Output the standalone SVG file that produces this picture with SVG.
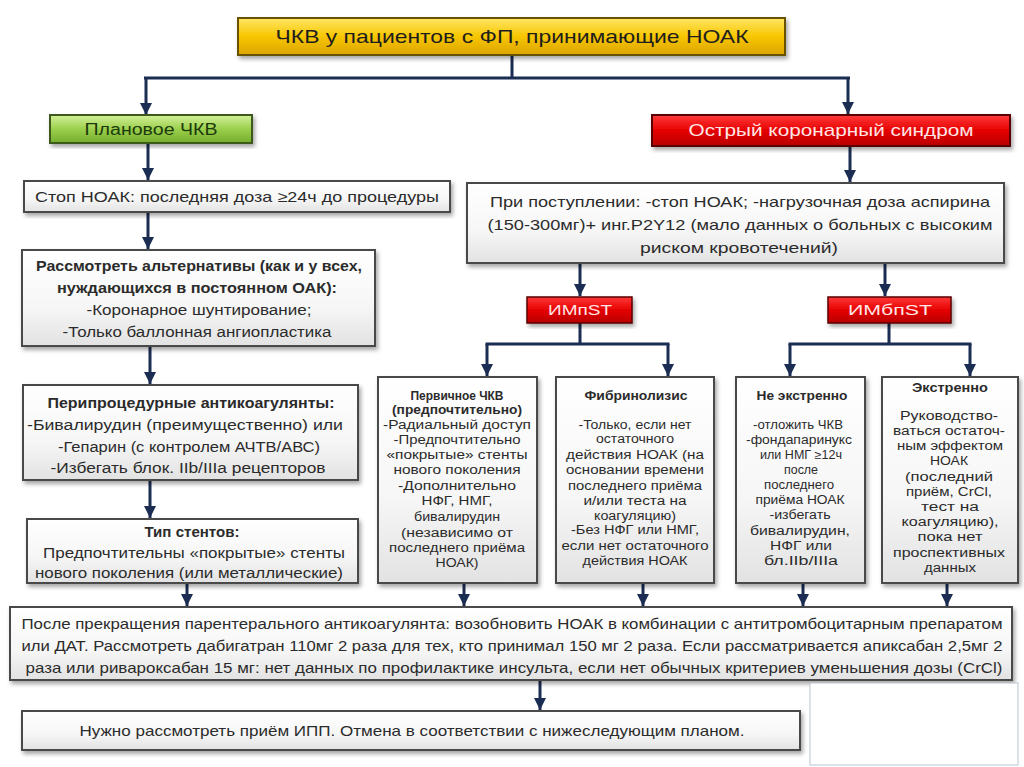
<svg xmlns="http://www.w3.org/2000/svg" width="1024" height="767" viewBox="0 0 1024 767">
<defs>
<linearGradient id="gw" x1="0" y1="0" x2="0" y2="1"><stop offset="0" stop-color="#ffffff"/><stop offset="0.6" stop-color="#f6f6f6"/><stop offset="1" stop-color="#e2e2e2"/></linearGradient>
<linearGradient id="gy" x1="0" y1="0" x2="0" y2="1"><stop offset="0" stop-color="#ffe766"/><stop offset="0.5" stop-color="#f7c600"/><stop offset="1" stop-color="#dca400"/></linearGradient>
<linearGradient id="gg" x1="0" y1="0" x2="0" y2="1"><stop offset="0" stop-color="#d4f09a"/><stop offset="0.5" stop-color="#9bd04c"/><stop offset="1" stop-color="#74ad2e"/></linearGradient>
<linearGradient id="gr" x1="0" y1="0" x2="0" y2="1"><stop offset="0" stop-color="#ff3a3a"/><stop offset="0.5" stop-color="#e60000"/><stop offset="1" stop-color="#b80000"/></linearGradient>
<filter id="sh" x="-10%" y="-10%" width="120%" height="130%"><feDropShadow dx="2" dy="3" stdDeviation="2" flood-color="#000" flood-opacity="0.35"/></filter>
<marker id="ar" viewBox="0 0 10 10" refX="10" refY="5" markerWidth="4" markerHeight="4" orient="auto"><path d="M0,0 L10,5 L0,10 z" fill="#1b2d52"/></marker>
<style>
.box{fill:url(#gw);stroke:#4a4a4a;stroke-width:2;filter:url(#sh)}
.t{font-family:"Liberation Sans","DejaVu Sans",sans-serif;fill:#2b2b2b;text-anchor:middle;lengthAdjust:spacingAndGlyphs}
.b{font-weight:bold}
.s15{font-size:15px}.s14{font-size:14px}.s12{font-size:12px}
.c{fill:none;stroke:#1b2d52;stroke-width:3}
.ca{fill:none;stroke:#1b2d52;stroke-width:3;marker-end:url(#ar)}
</style>
</defs>
<rect width="1024" height="767" fill="#ffffff"/>

<g id="connectors">
<path class="c" d="M512 55 V78 M144 78 H850"/>
<path class="ca" d="M146 78 V115"/>
<path class="ca" d="M848 78 V114"/>
<path class="ca" d="M148 143 V180"/>
<path class="ca" d="M148 212 V249"/>
<path class="ca" d="M150 346 V384"/>
<path class="ca" d="M150 480 V518"/>
<path class="ca" d="M187 583 V606"/>
<path class="ca" d="M850 146 V182"/>
<path class="ca" d="M580 263 V296"/>
<path class="ca" d="M885 263 V296"/>
<path class="c" d="M580 323 V344 M485.5 344 H669.5"/>
<path class="ca" d="M487 344 V376"/>
<path class="ca" d="M668 344 V376"/>
<path class="c" d="M889 323 V344 M788.5 344 H971.5"/>
<path class="ca" d="M790 344 V376"/>
<path class="ca" d="M970 344 V376"/>
<path class="ca" d="M464 583 V606"/>
<path class="ca" d="M643 583 V606"/>
<path class="ca" d="M803 583 V606"/>
<path class="ca" d="M947 583 V606"/>
<path class="ca" d="M540 680 V710"/>
</g>

<g id="title">
<rect x="238" y="18" width="547" height="37" fill="url(#gy)" stroke="#6b5200" stroke-width="2" filter="url(#sh)"/>
<text class="t" x="512" y="43" font-size="19" textLength="473" lengthAdjust="spacingAndGlyphs" style="fill:#1e1e1e">ЧКВ у пациентов с ФП, принимающие НОАК</text>
</g>

<g id="planned">
<rect x="50" y="115" width="202" height="28" fill="url(#gg)" stroke="#3c5a1a" stroke-width="2" filter="url(#sh)"/>
<text class="t" x="151" y="135" font-size="16" textLength="133" lengthAdjust="spacingAndGlyphs" style="fill:#1d3a0c">Плановое ЧКВ</text>
</g>

<g id="acs">
<rect x="652" y="115" width="358" height="31" fill="url(#gr)" stroke="#5a0000" stroke-width="2" filter="url(#sh)"/>
<text class="t" x="831" y="136" font-size="17" textLength="285" lengthAdjust="spacingAndGlyphs" style="fill:#ffe6e6">Острый коронарный синдром</text>
</g>

<g id="stop">
<rect class="box" x="24" y="181" width="426" height="31"/>
<text class="t s15" x="237" y="202" textLength="404" lengthAdjust="spacingAndGlyphs">Стоп НОАК: последняя доза ≥24ч до процедуры</text>
</g>

<g id="alternatives">
<rect class="box" x="22" y="250" width="353" height="96"/>
<text class="t s14 b" x="199" y="271" textLength="326" lengthAdjust="spacingAndGlyphs">Рассмотреть альтернативы (как и у всех,</text>
<text class="t s14 b" x="197" y="293" textLength="280" lengthAdjust="spacingAndGlyphs">нуждающихся в постоянном ОАК):</text>
<text class="t s14" x="199" y="315" textLength="225" lengthAdjust="spacingAndGlyphs">-Коронарное шунтирование;</text>
<text class="t s14" x="197" y="337" textLength="269" lengthAdjust="spacingAndGlyphs">-Только баллонная ангиопластика</text>
</g>

<g id="periproc">
<rect class="box" x="23" y="385" width="335" height="95"/>
<text class="t s14 b" x="191" y="408" textLength="287" lengthAdjust="spacingAndGlyphs">Перипроцедурные антикоагулянты:</text>
<text class="t s14" x="185" y="430" textLength="316" lengthAdjust="spacingAndGlyphs">-Бивалирудин (преимущественно) или</text>
<text class="t s14" x="189" y="452" textLength="262" lengthAdjust="spacingAndGlyphs">-Гепарин (с контролем АЧТВ/АВС)</text>
<text class="t s14" x="188" y="473" textLength="275" lengthAdjust="spacingAndGlyphs">-Избегать блок. IIb/IIIa рецепторов</text>
</g>

<g id="stents">
<rect class="box" x="27" y="519" width="331" height="64"/>
<text class="t s14 b" x="192" y="537" textLength="95" lengthAdjust="spacingAndGlyphs">Тип стентов:</text>
<text class="t s14" x="194" y="558" textLength="302" lengthAdjust="spacingAndGlyphs">Предпочтительны «покрытые» стенты</text>
<text class="t s14" x="189" y="578" textLength="308" lengthAdjust="spacingAndGlyphs">нового поколения (или металлические)</text>
</g>

<g id="admission">
<rect class="box" x="467" y="183" width="537" height="80"/>
<text class="t s15" x="740" y="207" textLength="500" lengthAdjust="spacingAndGlyphs">При поступлении: -стоп НОАК; -нагрузочная доза аспирина</text>
<text class="t s15" x="740" y="230" textLength="505" lengthAdjust="spacingAndGlyphs">(150-300мг)+ инг.P2Y12 (мало данных о больных с высоким</text>
<text class="t s15" x="739" y="253" textLength="198" lengthAdjust="spacingAndGlyphs">риском кровотечений)</text>
</g>

<g id="stemi">
<rect x="527" y="297" width="105" height="26" fill="url(#gr)" stroke="#5a0000" stroke-width="1.5" filter="url(#sh)"/>
<text class="t s15" x="580" y="315" textLength="64" lengthAdjust="spacingAndGlyphs" style="fill:#ffe6e6">ИМпST</text>
</g>

<g id="nstemi">
<rect x="828" y="297" width="123" height="26" fill="url(#gr)" stroke="#5a0000" stroke-width="1.5" filter="url(#sh)"/>
<text class="t s15" x="890" y="315" textLength="84" lengthAdjust="spacingAndGlyphs" style="fill:#ffe6e6">ИМбпST</text>
</g>

<g id="primary-pci">
<rect class="box" x="378" y="377" width="159" height="206"/>
<text class="t s12 b" x="457" y="400" textLength="93" lengthAdjust="spacingAndGlyphs">Первичное ЧКВ</text>
<text class="t s12 b" x="457" y="414" textLength="130" lengthAdjust="spacingAndGlyphs">(предпочтительно)</text>
<text class="t s12" x="457" y="429" textLength="148" lengthAdjust="spacingAndGlyphs">-Радиальный доступ</text>
<text class="t s12" x="457" y="444" textLength="127" lengthAdjust="spacingAndGlyphs">-Предпочтительно</text>
<text class="t s12" x="457" y="459" textLength="141" lengthAdjust="spacingAndGlyphs">«покрытые» стенты</text>
<text class="t s12" x="457" y="474" textLength="127" lengthAdjust="spacingAndGlyphs">нового поколения</text>
<text class="t s12" x="457" y="490" textLength="118" lengthAdjust="spacingAndGlyphs">-Дополнительно</text>
<text class="t s12" x="457" y="505" textLength="71" lengthAdjust="spacingAndGlyphs">НФГ, НМГ,</text>
<text class="t s12" x="457" y="521" textLength="86" lengthAdjust="spacingAndGlyphs">бивалирудин</text>
<text class="t s12" x="457" y="537" textLength="112" lengthAdjust="spacingAndGlyphs">(независимо от</text>
<text class="t s12" x="457" y="552" textLength="136" lengthAdjust="spacingAndGlyphs">последнего приёма</text>
<text class="t s12" x="457" y="567" textLength="43" lengthAdjust="spacingAndGlyphs">НОАК)</text>
</g>

<g id="fibrinolysis">
<rect class="box" x="556" y="377" width="158" height="206"/>
<text class="t s12 b" x="636" y="400" textLength="103" lengthAdjust="spacingAndGlyphs">Фибринолизис</text>
<text class="t s12" x="635" y="429" textLength="113" lengthAdjust="spacingAndGlyphs">-Только, если нет</text>
<text class="t s12" x="635" y="443" textLength="78" lengthAdjust="spacingAndGlyphs">остаточного</text>
<text class="t s12" x="635" y="459" textLength="138" lengthAdjust="spacingAndGlyphs">действия НОАК (на</text>
<text class="t s12" x="635" y="474" textLength="138" lengthAdjust="spacingAndGlyphs">основании времени</text>
<text class="t s12" x="635" y="490" textLength="134" lengthAdjust="spacingAndGlyphs">последнего приёма</text>
<text class="t s12" x="635" y="505" textLength="103" lengthAdjust="spacingAndGlyphs">и/или теста на</text>
<text class="t s12" x="635" y="520" textLength="82" lengthAdjust="spacingAndGlyphs">коагуляцию)</text>
<text class="t s12" x="635" y="534" textLength="128" lengthAdjust="spacingAndGlyphs">-Без НФГ или НМГ,</text>
<text class="t s12" x="635" y="550" textLength="147" lengthAdjust="spacingAndGlyphs">если нет остаточного</text>
<text class="t s12" x="635" y="565" textLength="105" lengthAdjust="spacingAndGlyphs">действия НОАК</text>
</g>

<g id="non-urgent">
<rect class="box" x="736" y="377" width="129" height="206"/>
<text class="t s12 b" x="802" y="400" textLength="91" lengthAdjust="spacingAndGlyphs">Не экстренно</text>
<text class="t s12" x="798" y="429" textLength="90" lengthAdjust="spacingAndGlyphs">-отложить ЧКВ</text>
<text class="t s12" x="799" y="444" textLength="106" lengthAdjust="spacingAndGlyphs">-фондапаринукс</text>
<text class="t s12" x="801" y="459" textLength="82" lengthAdjust="spacingAndGlyphs">или НМГ ≥12ч</text>
<text class="t s12" x="801" y="474" textLength="34" lengthAdjust="spacingAndGlyphs">после</text>
<text class="t s12" x="799" y="489" textLength="70" lengthAdjust="spacingAndGlyphs">последнего</text>
<text class="t s12" x="800" y="504" textLength="89" lengthAdjust="spacingAndGlyphs">приёма НОАК</text>
<text class="t s12" x="800" y="519" textLength="61" lengthAdjust="spacingAndGlyphs">-избегать</text>
<text class="t s12" x="800" y="535" textLength="100" lengthAdjust="spacingAndGlyphs">бивалирудин,</text>
<text class="t s12" x="801" y="550" textLength="62" lengthAdjust="spacingAndGlyphs">НФГ или</text>
<text class="t s12" x="801" y="565" textLength="74" lengthAdjust="spacingAndGlyphs">бл.IIb/IIIa</text>
</g>

<g id="urgent">
<rect class="box" x="882" y="377" width="136" height="206"/>
<text class="t s12 b" x="950" y="392" textLength="76" lengthAdjust="spacingAndGlyphs">Экстренно</text>
<text class="t s12" x="949" y="420" textLength="98" lengthAdjust="spacingAndGlyphs">Руководство-</text>
<text class="t s12" x="949" y="435" textLength="112" lengthAdjust="spacingAndGlyphs">ваться остаточ-</text>
<text class="t s12" x="950" y="450" textLength="106" lengthAdjust="spacingAndGlyphs">ным эффектом</text>
<text class="t s12" x="949" y="465" textLength="38" lengthAdjust="spacingAndGlyphs">НОАК</text>
<text class="t s12" x="949" y="481" textLength="88" lengthAdjust="spacingAndGlyphs">(последний</text>
<text class="t s12" x="949" y="496" textLength="86" lengthAdjust="spacingAndGlyphs">приём, CrCl,</text>
<text class="t s12" x="950" y="511" textLength="58" lengthAdjust="spacingAndGlyphs">тест на</text>
<text class="t s12" x="950" y="526" textLength="97" lengthAdjust="spacingAndGlyphs">коагуляцию),</text>
<text class="t s12" x="950" y="541" textLength="65" lengthAdjust="spacingAndGlyphs">пока нет</text>
<text class="t s12" x="949" y="557" textLength="112" lengthAdjust="spacingAndGlyphs">проспективных</text>
<text class="t s12" x="950" y="572" textLength="52" lengthAdjust="spacingAndGlyphs">данных</text>
</g>

<g id="resume">
<rect class="box" x="10" y="607" width="1002" height="73"/>
<text class="t s15" x="512" y="629" textLength="981" lengthAdjust="spacingAndGlyphs">После прекращения парентерального антикоагулянта: возобновить НОАК в комбинации с антитромбоцитарным препаратом</text>
<text class="t s15" x="512" y="651" textLength="981" lengthAdjust="spacingAndGlyphs">или ДАТ. Рассмотреть дабигатран 110мг 2 раза для тех, кто принимал 150 мг 2 раза. Если рассматривается апиксабан 2,5мг 2</text>
<text class="t s15" x="514" y="673" textLength="977" lengthAdjust="spacingAndGlyphs">раза или ривароксабан 15 мг: нет данных по профилактике инсульта, если нет обычных критериев уменьшения дозы (CrCl)</text>
</g>

<g id="ppi">
<rect class="box" x="22" y="711" width="778" height="39"/>
<text class="t s15" x="412" y="736" textLength="665" lengthAdjust="spacingAndGlyphs">Нужно рассмотреть приём ИПП.  Отмена в соответствии с нижеследующим планом.</text>
</g>

<rect x="810" y="683" width="208" height="82" fill="#ffffff" stroke="#b8c4d0" stroke-width="1"/>
</svg>
